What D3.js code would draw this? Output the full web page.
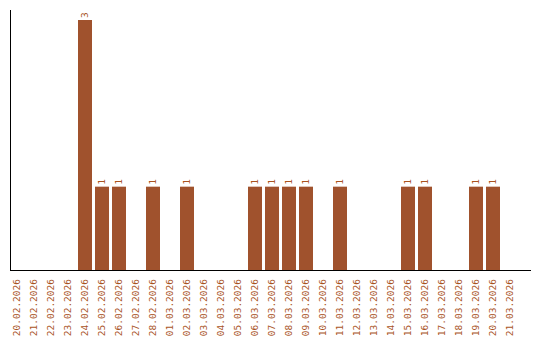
<!DOCTYPE html>
<html>
<head>
<meta charset="utf-8">
<script src="https://cdn.jsdelivr.net/npm/d3@7"></script>
<style>
  html, body { margin: 0; padding: 0; background: #fff; }
  svg { display: block; }
  text { font-family: "DejaVu Sans Mono", "Liberation Mono", monospace; font-size: 9.5px; fill: #a9541f; -webkit-font-smoothing: none; }
</style>
</head>
<body>
<svg id="chart" width="540" height="340"></svg>
<script>
const categories = ["20.02.2026","21.02.2026","22.02.2026","23.02.2026","24.02.2026","25.02.2026","26.02.2026","27.02.2026","28.02.2026","01.03.2026","02.03.2026","03.03.2026","04.03.2026","05.03.2026","06.03.2026","07.03.2026","08.03.2026","09.03.2026","10.03.2026","11.03.2026","12.03.2026","13.03.2026","14.03.2026","15.03.2026","16.03.2026","17.03.2026","18.03.2026","19.03.2026","20.03.2026","21.03.2026"];
const values = [0,0,0,0,3,1,1,0,1,0,1,0,0,0,1,1,1,1,0,1,0,0,0,1,1,0,0,1,1,0];

const svg = d3.select("#chart");
const barColor = "#a0522d";

const x = d3.scaleBand().domain(categories).range([10, 517]).paddingInner(3/17).paddingOuter(0);
const y = d3.scaleLinear().domain([0, 3]).range([270, 20]);

const data = categories.map((c, i) => ({c, v: values[i]})).filter(d => d.v > 0);

// bars
svg.append("g").selectAll("rect")
  .data(data)
  .join("rect")
  .attr("x", d => x(d.c))
  .attr("y", d => y(d.v))
  .attr("width", x.bandwidth())
  .attr("height", d => y(0) - y(d.v))
  .attr("fill", barColor);

// value labels
svg.append("g").selectAll("text")
  .data(data)
  .join("text")
  .attr("transform", d => `translate(${x(d.c) + x.bandwidth()/2},${y(d.v) - 2}) rotate(-90)`)
  .attr("dy", "0.35em")
  .attr("text-anchor", "start")
  .text(d => d.v);

// x axis labels
const xAxis = d3.axisBottom(x).tickSize(0).tickPadding(0);
const gx = svg.append("g").attr("transform", `translate(0,${y(0)})`).call(xAxis);
gx.select(".domain").remove();
gx.selectAll("text")
  .attr("x", -9)
  .attr("y", 0)
  .attr("dy", "0.35em")
  .attr("transform", "rotate(-90)")
  .style("text-anchor", "end")
  .attr("font-family", null)
  .attr("font-size", null)
  .attr("fill", null);

// axis lines
svg.append("line").attr("x1", 10.5).attr("x2", 10.5).attr("y1", 10).attr("y2", y(0))
  .attr("stroke", "#000").attr("stroke-width", 1);
svg.append("line").attr("x1", 10).attr("x2", 531).attr("y1", y(0) + 0.5).attr("y2", y(0) + 0.5)
  .attr("stroke", "#000").attr("stroke-width", 1);
</script>
</body>
</html>
